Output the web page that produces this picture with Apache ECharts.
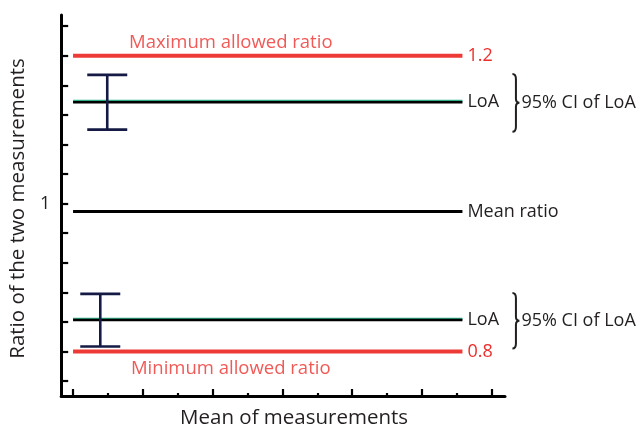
<!DOCTYPE html>
<html>
<head>
<meta charset="utf-8">
<script src="https://cdn.jsdelivr.net/npm/echarts@6/dist/echarts.min.js"></script>
<style>
html,body{margin:0;padding:0;background:#fff;}
#chart{width:642px;height:434px;}
</style>
</head>
<body>
<div id="chart"></div>
<script>
// ---- data ----
const yTicks = [0.76, 0.80, 0.84, 0.88, 0.92, 0.96, 1.00, 1.04, 1.08, 1.12, 1.16, 1.20, 1.24];
const yTickLabels = [1];
const xMajorTicks = [0, 1, 2, 3, 4, 5, 6];
const xMinorTicks = [0.5, 1.5, 2.5, 3.5, 4.5, 5.5];
const lineStartX = 0;
const lineEndX = 5.58;
const refNames = ['1.2', 'LoA', 'Mean ratio', 'LoA', '0.8'];
const refValues = [1.2, 1.137, 0.9895, 0.8426, 0.8];
const refKinds = ['limit', 'loa', 'mean', 'loa', 'limit'];
const limitTitles = ['Maximum allowed ratio', 'Minimum allowed ratio'];
const limitValues = [1.2, 0.8];
const limitTitleX = 2.26;
const ciX = [0.49, 0.39];
const ciLow = [1.100, 0.807];
const ciHigh = [1.174, 0.878];
const ciText = '95% CI of LoA';
const xTitle = 'Mean of measurements';
const yTitle = 'Ratio of the two measurements';

// ---- styles ----
const FONT = 'Open Sans';
const RED = '#ec2f2c';
const INK = '#231f20';
const NAVY = '#151a45';

const refSeries = refNames.map((n, i) => {
  const kind = refKinds[i];
  const isLimit = kind === 'limit';
  const lineStyle = isLimit
    ? { color: '#ee3a37', width: 4 }
    : kind === 'loa'
      ? { color: '#000', width: 2.5, shadowColor: '#2fae86', shadowBlur: 0, shadowOffsetY: -1.2 }
      : { color: '#000', width: 3 };
  return {
    type: 'line',
    name: n + i,
    xAxisIndex: 0,
    data: [[lineStartX, refValues[i]], [lineEndX, refValues[i]]],
    symbol: 'none',
    silent: true,
    lineStyle: lineStyle,
    z: isLimit ? 2 : 3,
    endLabel: {
      show: true,
      formatter: () => n,
      distance: 5,
      color: isLimit ? RED : INK,
      fontFamily: FONT,
      fontSize: 18
    }
  };
});

const titleSeries = {
  type: 'scatter',
  symbolSize: 0,
  silent: true,
  data: limitTitles.map((t, i) => ({
    value: [limitTitleX, limitValues[i]],
    name: t,
    label: {
      show: true,
      position: i === 0 ? 'top' : 'bottom',
      distance: i === 0 ? 3 : 8,
      formatter: t,
      color: RED,
      fontFamily: FONT,
      fontSize: 18.5
    }
  }))
};

const errorSeries = {
  type: 'custom',
  silent: true,
  z: 5,
  data: ciX.map((x, i) => [x, ciLow[i], ciHigh[i]]),
  renderItem: function (params, api) {
    const lo = api.coord([api.value(0), api.value(1)]);
    const hi = api.coord([api.value(0), api.value(2)]);
    const half = 20;
    const st = { stroke: NAVY, lineWidth: 2.6 };
    return {
      type: 'group',
      children: [
        { type: 'line', shape: { x1: lo[0], y1: lo[1], x2: hi[0], y2: hi[1] }, style: st },
        { type: 'line', shape: { x1: lo[0] - half, y1: lo[1], x2: lo[0] + half, y2: lo[1] }, style: st },
        { type: 'line', shape: { x1: hi[0] - half, y1: hi[1], x2: hi[0] + half, y2: hi[1] }, style: st }
      ]
    };
  }
};

const braceSeries = {
  type: 'custom',
  silent: true,
  data: ciLow.map((lo, i) => [lineEndX, lo, ciHigh[i]]),
  renderItem: function (params, api) {
    const top = api.coord([api.value(0), api.value(2)]);
    const bot = api.coord([api.value(0), api.value(1)]);
    const x0 = top[0] + 50;
    const y0 = top[1] - 1;
    const y1 = bot[1] + 2;
    const ym = (y0 + y1) / 2;
    const w = 3.5, tip = 3.5;
    const p = 'M' + x0 + ' ' + y0 +
      ' Q' + (x0 + w) + ' ' + y0 + ' ' + (x0 + w) + ' ' + (y0 + 5) +
      ' L' + (x0 + w) + ' ' + (ym - 4) +
      ' Q' + (x0 + w) + ' ' + ym + ' ' + (x0 + w + tip) + ' ' + ym +
      ' Q' + (x0 + w) + ' ' + ym + ' ' + (x0 + w) + ' ' + (ym + 4) +
      ' L' + (x0 + w) + ' ' + (y1 - 5) +
      ' Q' + (x0 + w) + ' ' + y1 + ' ' + x0 + ' ' + y1;
    return {
      type: 'group',
      children: [
        { type: 'path', shape: { pathData: p }, style: { stroke: INK, lineWidth: 2, fill: null } },
        { type: 'text', style: { text: ciText, x: x0 + w + tip + 2, y: ym, verticalAlign: 'middle', align: 'left',
          fill: INK, fontFamily: FONT, fontSize: 18 } }
      ]
    };
  }
};

const chart = echarts.init(document.getElementById('chart'), null, { renderer: 'canvas' });
const xBase = { type: 'value', min: -0.17, max: 6.19, splitLine: { show: false }, axisLabel: { show: false } };
chart.setOption({
  animation: false,
  backgroundColor: '#fff',
  grid: { left: 61, right: 137, top: 15, bottom: 34, containLabel: false },
  xAxis: [
    Object.assign({}, xBase, {
      position: 'bottom',
      axisLine: { show: true, onZero: false, lineStyle: { color: '#000', width: 3 } },
      axisTick: { show: true, inside: true, length: 7, lineStyle: { color: '#000', width: 2.2 }, customValues: xMajorTicks },
      name: xTitle, nameLocation: 'middle', nameGap: 12,
      nameTextStyle: { fontFamily: FONT, fontSize: 20.5, color: INK, padding: [0, 0, 0, 22] }
    }),
    Object.assign({}, xBase, {
      position: 'bottom',
      axisLine: { show: false },
      axisTick: { show: true, inside: true, length: 3, lineStyle: { color: '#000', width: 2.2 }, customValues: xMinorTicks }
    })
  ],
  yAxis: {
    type: 'value', min: 0.74, max: 1.255,
    splitLine: { show: false },
    axisLine: { show: true, onZero: false, lineStyle: { color: '#000', width: 3 } },
    axisTick: { show: true, inside: true, length: 7, lineStyle: { color: '#000', width: 2.2 }, customValues: yTicks },
    axisLabel: { show: true, customValues: yTickLabels, margin: 11, fontFamily: FONT, fontSize: 18, color: INK },
    name: yTitle, nameLocation: 'middle', nameGap: 17,
    nameTextStyle: { fontFamily: FONT, fontSize: 20.5, color: INK, padding: [10, 6, 0, 0] }
  },
  series: refSeries.concat([titleSeries, errorSeries, braceSeries])
});
</script>
</body>
</html>
